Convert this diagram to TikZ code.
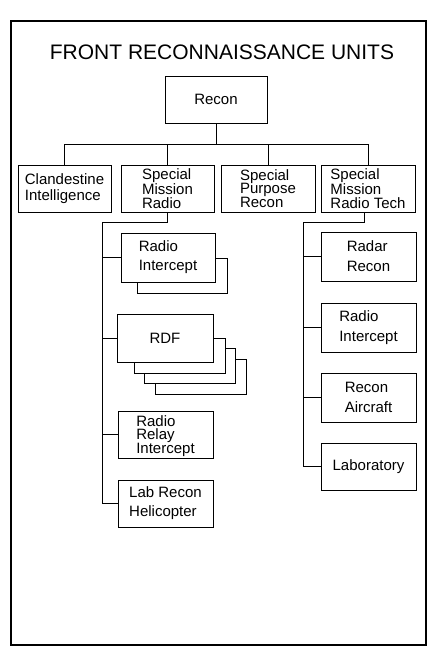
\documentclass[tikz,border=0pt]{standalone}
\usepackage{fontspec}
\setmainfont{Liberation Sans}
\newcommand\unitsize[1]{\fontsize{15}{#1}\selectfont}
\begin{document}
\begin{tikzpicture}[x=1pt,y=-1pt,
    unit/.style={draw,line width=0.9pt,fill=white,align=left,inner sep=1pt,
      minimum width=94pt,minimum height=47pt,font=\unitsize{16}},
    back/.style={draw,line width=0.9pt,fill=white},
    link/.style={line width=0.9pt}]
  \useasboundingbox (0,0) rectangle (434,648);
  % frame and title
  \draw[line width=1.3pt] (11,21) rectangle (426,645);
  \node[font=\fontsize{21}{25}\selectfont] (title) at (222,52.5) {FRONT RECONNAISSANCE UNITS};
  % top levels
  \node[unit,minimum width=102pt] (recon) at (216,99.5) {Recon};
  \node[unit,minimum width=93pt] (clan) at (64.5,188.5) {Clandestine\\Intelligence};
  \node[unit,minimum width=93pt,font=\unitsize{13.5}] (smr) at (167.5,188.5) {Special\\Mission\\Radio};
  \node[unit,font=\unitsize{13.5}] (spr) at (268,188.5) {Special\\Purpose\\Recon};
  \node[unit,font=\unitsize{13.5}] (smrt) at (368,188.5) {Special\\Mission\\Radio Tech};
  % stacked copies
  \draw[back] (137,258) rectangle (227,293);
  \foreach \k in {3,2,1}
    \draw[back] (123.5+10.5*\k,327.5+10.5*\k) rectangle ++(91,35);
  % left column
  \node[unit,minimum height=49pt,font=\unitsize{19}] (ri) at (168,257.5) {Radio\\Intercept};
  \node[unit,minimum width=96pt,minimum height=48pt] (rdf) at (165,338) {RDF};
  \node[unit,minimum width=95pt,font=\unitsize{13.5},text depth=0pt] (rri) at (165.5,434.5) {Radio\\Relay\\Intercept};
  \node[unit,minimum width=95pt,font=\unitsize{19}] (lrh) at (165.5,503.5) {Lab Recon\\Helicopter};
  % right column
  \node[unit,minimum width=95pt,minimum height=49pt,font=\unitsize{20}] (rr) at (368.5,256.5) {Radar\\Recon};
  \node[unit,minimum width=95pt,minimum height=49pt,font=\unitsize{20}] (ri2) at (368.5,327.5) {Radio\\Intercept};
  \node[unit,minimum width=95pt,minimum height=49pt,font=\unitsize{20}] (ra) at (368.5,397.5) {Recon\\Aircraft};
  \node[unit,minimum width=95pt] (lab) at (368.5,466.5) {Laboratory};
  % edges
  \coordinate (bus) at (216,144);
  \draw[link] (recon.south) -- (bus);
  \draw[link] (clan.north) |- (bus);
  \draw[link] (smrt.north) |- (bus);
  \draw[link] (smr.north) -- (smr.north |- bus);
  \draw[link] (spr.north) -- (spr.north |- bus);
  \coordinate (lt) at (102,222);
  \draw[link] (smr.south) |- (lt) -- (lt |- lrh.west) -- (lrh.west);
  \foreach \n in {ri,rdf,rri}
    \draw[link] (lt |- \n.west) -- (\n.west);
  \coordinate (rt) at (303,222);
  \draw[link] ([xshift=-4pt]smrt.south) |- (rt) -- (rt |- lab.west) -- (lab.west);
  \foreach \n in {rr,ri2,ra}
    \draw[link] (rt |- \n.west) -- (\n.west);
\end{tikzpicture}
\end{document}
